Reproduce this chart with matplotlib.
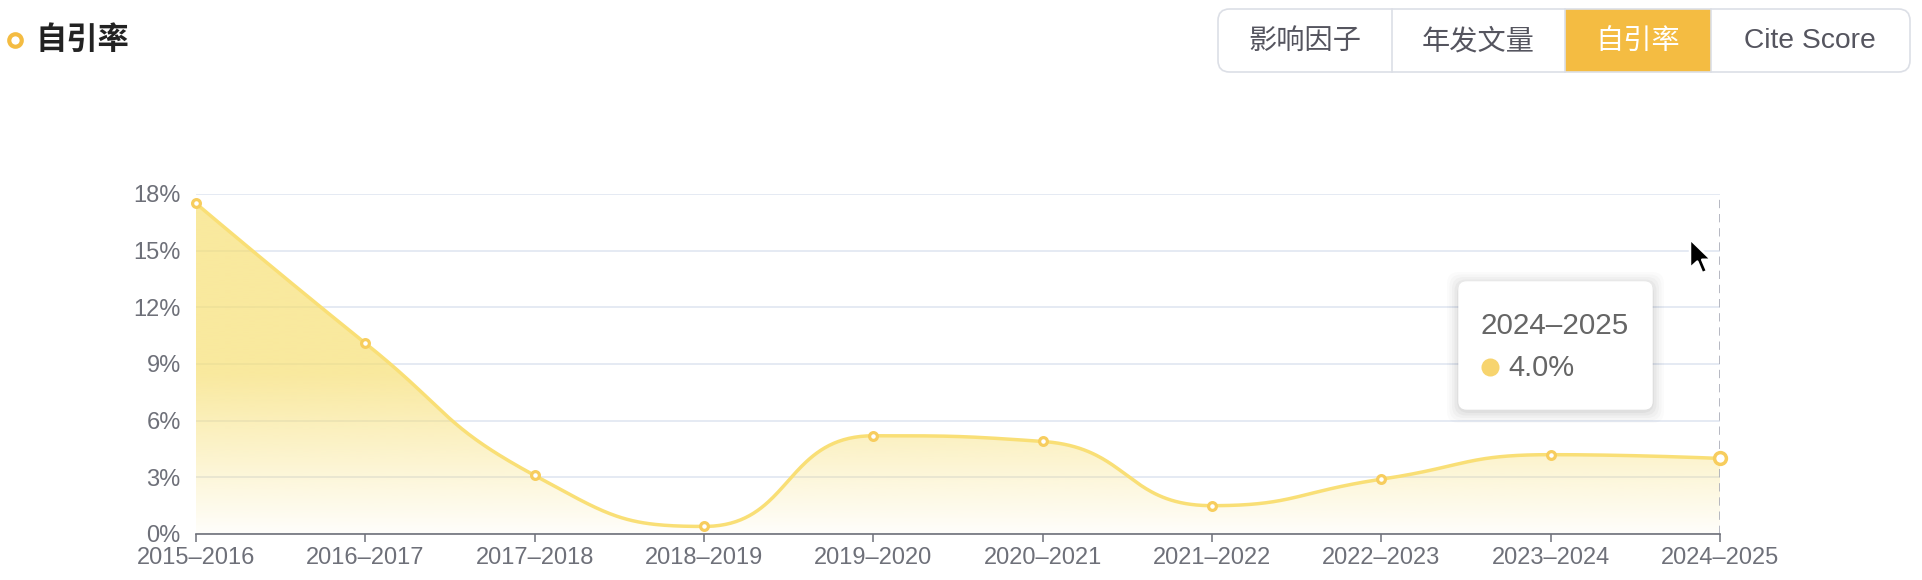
import numpy as np
import matplotlib
matplotlib.use('Agg')
import matplotlib.pyplot as plt
from matplotlib.patches import FancyBboxPatch, Polygon, Rectangle
from matplotlib.lines import Line2D

# ---------------- data ----------------
categories = ['2015–2016', '2016–2017', '2017–2018', '2018–2019', '2019–2020',
              '2020–2021', '2021–2022', '2022–2023', '2023–2024', '2024–2025']
values = [17.5, 10.1, 3.1, 0.4, 5.2, 4.9, 1.5, 2.9, 4.2, 4.0]
y_ticks = [0, 3, 6, 9, 12, 15, 18]
y_tick_labels = ['0%', '3%', '6%', '9%', '12%', '15%', '18%']
tabs = ['影响因子', '年发文量', '自引率', 'Cite Score']
active_tab = 2
title = '自引率'
tooltip_idx = 9

# ---------------- style ----------------
W, H = 1922, 580
LATIN = ['Liberation Sans', 'Noto Sans CJK SC', 'DejaVu Sans']
CJK = ['Noto Sans CJK SC', 'Liberation Sans', 'DejaVu Sans']
plt.rcParams['font.family'] = LATIN
AXIS_C = '#6E7079'
GRID_C = '#E0E6F1'
LINE_C = '#F9DF76'
MARK_C = '#F7CD5E'
FILL_RGB = np.array([247, 222, 110]) / 255.0
ACCENT = '#F4BC42'


def fx(x):
    return x / W


def fy(y):
    return 1 - y / H


fig = plt.figure(figsize=(W / 100, H / 100), dpi=100)
fig.patch.set_facecolor('white')
ax = fig.add_axes([fx(196), fy(534), (1720 - 196) / W, (534 - 194) / H])
n = len(categories)
xs_cat = np.arange(n)
ax.set_xlim(0, n - 1)
ax.set_ylim(0, 18)

# axes styling
for s in ['left', 'right', 'top']:
    ax.spines[s].set_visible(False)
ax.spines['bottom'].set_color(AXIS_C)
ax.spines['bottom'].set_linewidth(1.2)
ax.spines['bottom'].set_zorder(6)
ax.set_yticks(y_ticks)
ax.set_yticklabels(y_tick_labels)
ax.set_xticks(xs_cat)
ax.set_xticklabels(categories)
ax.tick_params(axis='y', length=0, pad=11, labelsize=17, labelcolor=AXIS_C)
ax.tick_params(axis='x', length=6, width=1.1, color=AXIS_C, pad=3,
               labelsize=17, labelcolor=AXIS_C, direction='out')
ax.yaxis.grid(True, color=GRID_C, linewidth=1.2, zorder=0)
ax.set_axisbelow(True)

# ---------------- echarts-like smoothing (pixel space) ----------------
pts = ax.transData.transform(np.column_stack([xs_cat, values]))


def echarts_smooth(p, smooth=0.5):
    segs = []
    cp0 = p[0]
    m = len(p)
    for i in range(1, m):
        prev, cur = p[i - 1], p[i]
        if i == m - 1:
            cp1 = cur
            ncp0 = None
        else:
            nxt = p[i + 1]
            v = nxt - prev
            d0 = cur - prev
            d1 = nxt - cur
            lp = np.hypot(*d0)
            ln = np.hypot(*d1)
            r = ln / (ln + lp)
            ncp0 = cur + v * smooth * r
            ncp0 = np.minimum(ncp0, np.maximum(nxt, cur))
            ncp0 = np.maximum(ncp0, np.minimum(nxt, cur))
            v = ncp0 - cur
            cp1 = cur - v * lp / ln
            cp1 = np.minimum(cp1, np.maximum(prev, cur))
            cp1 = np.maximum(cp1, np.minimum(prev, cur))
            v = cur - cp1
            ncp0 = cur + v * ln / lp
        segs.append((prev, cp0, cp1, cur))
        cp0 = ncp0
    return segs


t = np.linspace(0, 1, 80)[:, None]
curve = []
for (p0, c0, c1, p1) in echarts_smooth(pts):
    b = ((1 - t) ** 3) * p0 + 3 * ((1 - t) ** 2) * t * c0 + 3 * (1 - t) * t ** 2 * c1 + t ** 3 * p1
    curve.append(b if not curve else b[1:])
curve = np.vstack(curve)
curve_d = ax.transData.inverted().transform(curve)
cx, cy = curve_d[:, 0], curve_d[:, 1]

# ---------------- gradient area ----------------
poly = np.vstack([curve_d, [[n - 1, 0], [0, 0]]])
clip = Polygon(poly, closed=True, transform=ax.transData, facecolor='none', edgecolor='none')
ax.add_patch(clip)
ny = 400
yy = np.linspace(0, 18, ny)
alpha = np.where(yy >= 8.5, 0.67, 0.03 + 0.64 * (yy / 8.5))
img = np.zeros((ny, 1, 4))
img[:, 0, :3] = FILL_RGB
img[:, 0, 3] = alpha
im = ax.imshow(img, extent=[0, n - 1, 0, 18], origin='lower', aspect='auto',
               zorder=1, interpolation='bilinear')
im.set_clip_path(clip)
ax.set_xlim(0, n - 1)
ax.set_ylim(0, 18)

# line
ax.plot(cx, cy, color=LINE_C, lw=2.5, zorder=3, solid_capstyle='round', clip_on=False)

# dashed hover line
ax.axvline(xs_cat[tooltip_idx], color='#A9ACB8', lw=1.2, ls=(0, (5, 3.5)), zorder=2)

# markers
others = [i for i in range(n) if i != tooltip_idx]
ax.plot(xs_cat[others], np.array(values)[others], 'o', ms=5.6, mfc='white', mec=MARK_C,
        mew=2.3, zorder=5, clip_on=False)
ax.plot([xs_cat[tooltip_idx]], [values[tooltip_idx]], 'o', ms=8.5, mfc='white', mec=MARK_C,
        mew=2.5, zorder=5, clip_on=False)

# ---------------- title ----------------
fig.add_artist(Line2D([fx(15)], [fy(40)], marker='o', ms=9, mfc='white', mec=ACCENT,
                      mew=3.0, transform=fig.transFigure))
fig.text(fx(36), fy(40), title, family=CJK, fontsize=22.5, fontweight='bold',
         color='#222222', ha='left', va='center')

# ---------------- tabs ----------------
box_l, box_r, box_t, box_b = 1218, 1910, 9, 72
edges = [1218, 1392, 1565, 1711, 1910]
centers = [1305, 1478, 1638, 1810]
fig.add_artist(Rectangle((fx(edges[active_tab]), fy(box_b)),
                         (edges[active_tab + 1] - edges[active_tab]) / W,
                         (box_b - box_t) / H, transform=fig.transFigure,
                         facecolor=ACCENT, edgecolor='none', zorder=2))
fig.add_artist(FancyBboxPatch((fx(box_l), fy(box_b)), (box_r - box_l) / W, (box_b - box_t) / H,
                              boxstyle='round,pad=0,rounding_size=0.006',
                              transform=fig.transFigure, facecolor='none',
                              edgecolor='#DCDFE6', linewidth=1.2, zorder=3,
                              mutation_aspect=W / H))
for e in edges[1:-1]:
    fig.add_artist(Line2D([fx(e), fx(e)], [fy(box_t), fy(box_b)], color='#DCDFE6', lw=1.2,
                          transform=fig.transFigure, zorder=3))
for i, (lab, c) in enumerate(zip(tabs, centers)):
    fam = LATIN if lab.isascii() else CJK
    fig.text(fx(c), fy(41), lab, family=fam, fontsize=20.3,
             color='white' if i == active_tab else '#55555F',
             ha='center', va='center', zorder=4, fontweight='medium')

# ---------------- tooltip ----------------
tl, tr, tt, tb = 1459, 1652, 282, 409
for k, a in enumerate([0.035, 0.03, 0.025, 0.02, 0.015]):
    g = 2 + k * 2.5
    fig.add_artist(FancyBboxPatch((fx(tl - g), fy(tb + g + 2)), (tr - tl + 2 * g) / W,
                                  (tb - tt + 2 * g) / H,
                                  boxstyle='round,pad=0,rounding_size=0.006',
                                  mutation_aspect=W / H,
                                  transform=fig.transFigure, facecolor='black', alpha=a,
                                  edgecolor='none', zorder=7))
fig.add_artist(FancyBboxPatch((fx(tl), fy(tb)), (tr - tl) / W, (tb - tt) / H,
                              boxstyle='round,pad=0,rounding_size=0.004',
                              mutation_aspect=W / H,
                              transform=fig.transFigure, facecolor='white',
                              edgecolor='white', linewidth=1, zorder=8))
fig.text(fx(1481), fy(334), categories[tooltip_idx], fontsize=21.3, color='#666666',
         ha='left', va='baseline', zorder=9)
fig.add_artist(Line2D([fx(1490)], [fy(367)], marker='o', ms=13, mfc='#F7D46E', mec='none',
                      transform=fig.transFigure, zorder=9))
fig.text(fx(1508), fy(376), f'{values[tooltip_idx]:.1f}%', fontsize=21, color='#666666',
         ha='left', va='baseline', zorder=9)

# ---------------- mouse cursor ----------------
tip = np.array([1690, 239])
shape = np.array([(0, 0), (0, 24), (6, 18.5), (10, 28), (14, 26.3), (10, 17), (17.5, 17)]) * 1.22
cur = [(fx(tip[0] + dx), fy(tip[1] + dy)) for dx, dy in shape]
fig.add_artist(Polygon(cur, closed=True, transform=fig.transFigure, facecolor='black',
                       edgecolor='white', linewidth=1.8, zorder=10, joinstyle='round'))

fig.savefig('out.png', dpi=100, facecolor='white')
